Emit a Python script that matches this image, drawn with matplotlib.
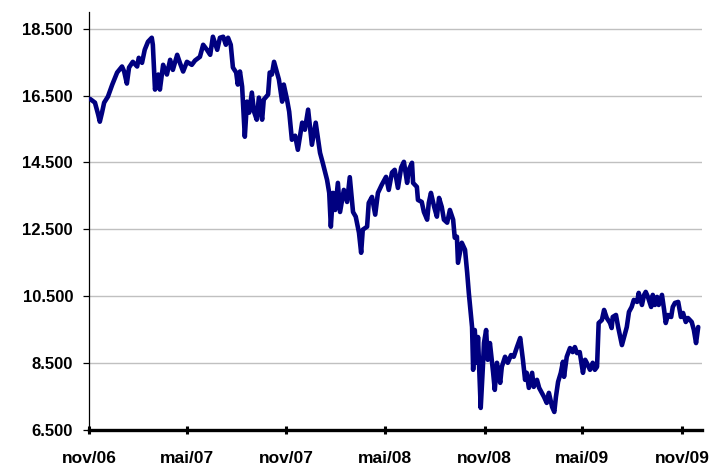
import matplotlib
matplotlib.use("Agg")
import matplotlib.pyplot as plt
import pandas as pd

# days elapsed since 2006-11-01
day_offsets = [2, 11, 17, 20, 24, 28, 35, 43, 52, 61, 65, 70, 74, 81, 89, 92, 98, 103, 109, 116,
               118, 122, 128, 131, 137, 144, 150, 155, 163, 168, 174, 181, 190, 196, 205, 211, 218, 224, 229, 237,
               242, 248, 253, 257, 262, 266, 272, 275, 279, 283, 288, 292, 296, 301, 305, 310, 314, 320, 323, 331,
               334, 338, 342, 347, 351, 357, 360, 366, 370, 375, 381, 386, 394, 399, 405, 412, 419, 427, 432, 440,
               444, 447, 451, 455, 460, 464, 471, 477, 482, 488, 493, 499, 503, 506, 514, 517, 523, 529, 534, 541,
               549, 554, 560, 565, 571, 577, 582, 588, 591, 597, 599, 606, 608, 615, 619, 625, 628, 632, 638, 643,
               647, 652, 656, 662, 667, 673, 676, 680, 682, 689, 695, 699, 702, 708, 710, 713, 717, 719, 724, 728,
               730, 734, 737, 741, 747, 750, 754, 760, 763, 769, 774, 780, 785, 791, 797, 802, 806, 809, 813, 819,
               822, 828, 832, 837, 841, 846, 850, 856, 860, 863, 867, 872, 876, 878, 883, 889, 894, 898, 902, 907,
               913, 917, 920, 926, 931, 935, 939, 942, 948, 952, 957, 963, 966, 968, 974, 978, 985, 989, 994, 998,
               1003, 1007, 1013, 1016, 1022, 1026, 1029, 1033, 1039, 1042, 1046, 1050, 1053, 1059, 1063, 1066, 1070, 1076, 1079, 1083,
               1089, 1094, 1098, 1103, 1107, 1114, 1118, 1122, 1126]

index_values = [16400, 16290, 15930, 15720, 15990, 16290, 16470, 16830, 17190, 17370, 17220, 16860, 17340, 17510, 17370, 17630, 17480, 17870, 18110, 18230,
                18020, 16680, 17130, 16680, 17420, 17130, 17570, 17270, 17720, 17480, 17220, 17510, 17420, 17550, 17660, 18020, 17870, 17720, 18260, 17870,
                18230, 18260, 18020, 18230, 18020, 17340, 17190, 16830, 17220, 16770, 15270, 16320, 15990, 16590, 16020, 15780, 16440, 15780, 16380, 16530,
                17190, 17130, 17510, 17220, 16980, 16320, 16830, 16380, 16020, 15180, 15300, 14880, 15690, 15480, 16080, 15030, 15690, 14790, 14490, 13980,
                13590, 12580, 13590, 13080, 13890, 13020, 13680, 13320, 14060, 13020, 12880, 12400, 11800, 12490, 12580, 13290, 13470, 12940, 13590, 13830,
                14070, 13680, 14200, 14280, 13740, 14350, 14520, 13890, 14280, 14490, 13890, 13770, 13380, 13320, 13020, 12790, 13290, 13590, 13170, 12880,
                13440, 13170, 12790, 12700, 13080, 12790, 12250, 12280, 11500, 12100, 11890, 11200, 10600, 9580, 8300, 9490, 8510, 9280, 7160, 8390,
                9100, 9490, 8600, 9100, 8210, 7700, 8510, 7910, 8390, 8690, 8510, 8740, 8690, 8980, 9250, 8600, 8000, 8210, 7760, 8210,
                7790, 8000, 7760, 7610, 7490, 7310, 7610, 7190, 7040, 7490, 7940, 8210, 8540, 8090, 8690, 8950, 8830, 8980, 8800, 8830,
                8210, 8600, 8510, 8300, 8510, 8300, 8390, 9700, 9790, 10090, 9850, 9700, 9550, 9880, 9940, 9580, 9040, 9280, 9580, 10030,
                10180, 10390, 10330, 10600, 10240, 10540, 10630, 10480, 10180, 10540, 10240, 10480, 10240, 10540, 10090, 9700, 9940, 9880, 10180, 10300,
                10330, 9880, 10000, 9730, 9850, 9730, 9490, 9100, 9580]

tick_dates = ["2006-11-01", "2007-05-01", "2007-11-01", "2008-05-01", "2008-11-01", "2009-05-01", "2009-11-01"]
tick_labels = ["nov/06", "mai/07", "nov/07", "mai/08", "nov/08", "mai/09", "nov/09"]
y_ticks = [6500, 8500, 10500, 12500, 14500, 16500, 18500]
y_labels = ["6.500", "8.500", "10.500", "12.500", "14.500", "16.500", "18.500"]

start = pd.Timestamp("2006-11-01")
dates = [start + pd.Timedelta(days=d) for d in day_offsets]

plt.rcParams['font.family'] = ['Liberation Sans', 'DejaVu Sans']

fig = plt.figure(figsize=(7.15, 4.70), dpi=100)
ax = fig.add_axes([89/715, 1 - 430/470, (702 - 89)/715, (430 - 12)/470])

ax.plot(dates, index_values, color='#000080', linewidth=3.3,
        solid_joinstyle='round', solid_capstyle='round', zorder=3)

ax.set_ylim(6500, 19000)
ax.set_xlim(start, start + pd.Timedelta(days=1133))

ax.set_yticks(y_ticks)
ax.set_yticklabels(y_labels, fontsize=12, fontweight='bold')
ax.set_xticks([pd.Timestamp(t) for t in tick_dates])
ax.set_xticklabels(tick_labels, fontsize=12.5, fontweight='bold')

ax.grid(axis='y', color='#c0c0c0', linewidth=1.0, zorder=0)
ax.set_axisbelow(True)

for s in ['top', 'right']:
    ax.spines[s].set_visible(False)
ax.spines['left'].set_linewidth(0.9)
ax.spines['bottom'].set_linewidth(2.4)
ax.spines['bottom'].set_zorder(4)

ax.tick_params(axis='y', direction='out', length=4.5, width=0.9, pad=7, colors='black')
ax.tick_params(axis='x', direction='inout', length=6, width=2.2, pad=12, colors='black')

fig.savefig("out.png", dpi=100, facecolor='white')
